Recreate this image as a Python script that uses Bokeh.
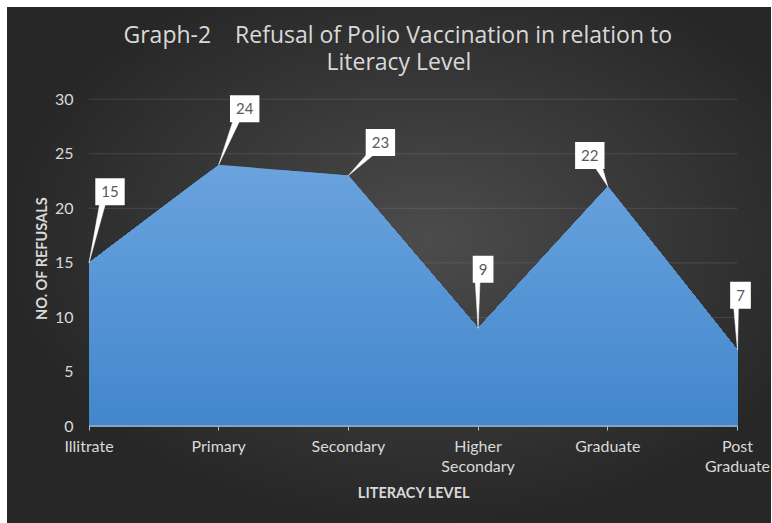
import numpy as np
from bokeh.plotting import figure
from bokeh.models import Range1d, FixedTicker, LinearAxis, Title, InlineStyleSheet
from bokeh.core.properties import value
from bokeh.embed import file_html
from bokeh.resources import INLINE

# ---------------- data ----------------
categories = ["Illitrate", "Primary", "Secondary", "Higher\nSecondary", "Graduate", "Post\nGraduate"]
refusals = [15, 24, 23, 9, 22, 7]
y_ticks = [0, 5, 10, 15, 20, 25, 30]
title_line1 = "Graph-2\u00a0\u00a0\u00a0\u00a0Refusal of Polio Vaccination in relation to"
title_line2 = "Literacy Level"
x_title = "LITERACY LEVEL"
y_title = "NO. OF REFUSALS"

# ---------------- layout / style ----------------
W, H = 772, 523
ML, MR, MT, MB = 75, 20, 90, 97
X0, X1 = -0.1041, 5.1157
Y0, Y1 = 0.0, 30.8
FW = W - ML - MR
FH = H - MT - MB
XS = FW / (X1 - X0)   # px per x unit
YS = FH / (Y1 - Y0)   # px per y unit

FONT = "Lato"
TFONT = "Open Sans"
TXT = "#d9d9d9"

# callout box centre offsets (px) and pointer base (px, relative to box centre)
label_dx = [21, 26, 32, 5, -18, 3]
label_dy = [-71, -56, -33, -59, -31, -55]
ptr_l = [-10, -11, -12, -8, 4, -7]
ptr_r = [-4, -4, -4, -3, 12, -2]

css = InlineStyleSheet(css=""":host {
  background-color: #ffffff;
  background-image: radial-gradient(ellipse farthest-side at 55% 45%, #4c4c4c 0%, #3b3b3b 45%, #272727 100%);
  background-size: 764px 516px;
  background-position: 7px 7px;
  background-repeat: no-repeat;
}""")

p = figure(width=W, height=H, x_range=Range1d(X0, X1), y_range=Range1d(Y0, Y1),
           output_backend="svg", toolbar_location=None, title_location=None,
           min_border_left=ML, min_border_right=MR, min_border_top=MT, min_border_bottom=MB,
           x_axis_type=None, y_axis_type=None, stylesheets=[css])
p.background_fill_alpha = 0
p.border_fill_alpha = 0
p.outline_line_color = None

n = len(categories)
xs = list(range(n))

xaxis = LinearAxis(ticker=FixedTicker(ticks=xs),
                   major_label_overrides={i: c for i, c in enumerate(categories)},
                   axis_label=x_title)
yaxis = LinearAxis(ticker=FixedTicker(ticks=y_ticks), axis_label=y_title)
p.add_layout(xaxis, "below")
p.add_layout(yaxis, "left")
for ax in (xaxis, yaxis):
    ax.axis_line_color = None
    ax.minor_tick_line_color = None
    ax.major_label_text_color = TXT
    ax.major_label_text_font = FONT
    ax.major_label_text_font_size = "16px"
    ax.axis_label_text_color = TXT
    ax.axis_label_text_font = FONT
    ax.axis_label_text_font_style = "bold"
    ax.axis_label_text_font_size = "14.5px"
xaxis.major_tick_line_color = "#bfbfbf"
xaxis.major_tick_out = 4
xaxis.major_tick_in = 0
xaxis.major_label_standoff = 5
xaxis.axis_label_standoff = 6
xaxis.major_label_text_line_height = 1.1
yaxis.major_tick_line_color = None
yaxis.major_tick_out = 0
yaxis.major_tick_in = 0
yaxis.major_label_standoff = 2
yaxis.axis_label_standoff = 2

# title: spacer nearest the frame, then line 2, then line 1
spacer = Title(text=" ", text_font_size="1px", standoff=9.5, text_color=TXT)
p.add_layout(spacer, "above")
t2 = Title(text=title_line2, align="left", offset=251, standoff=2,
           text_font=TFONT, text_font_size="23px", text_font_style="normal", text_color=TXT)
p.add_layout(t2, "above")
t1 = Title(text=title_line1, align="left", offset=48, standoff=0,
           text_font=TFONT, text_font_size="23px", text_font_style="normal", text_color=TXT)
try:
    t1.standoff = -16
except Exception:
    pass
p.add_layout(t1, "above")

# gridlines
grid_y = [t for t in y_ticks if t > 0]
p.segment(x0=[xs[0]] * len(grid_y), y0=grid_y, x1=[xs[-1]] * len(grid_y), y1=grid_y,
          line_color="#808080", line_alpha=0.3, line_width=1)

# gradient area, drawn as stacked clipped bands
def clip_below(xv, yv, h):
    px, py = [], []
    for i in range(len(xv)):
        if i > 0:
            a, b = yv[i - 1], yv[i]
            if (a - h) * (b - h) < 0:
                t = (h - a) / (b - a)
                px.append(xv[i - 1] + t * (xv[i] - xv[i - 1]))
                py.append(h)
        px.append(xv[i])
        py.append(min(yv[i], h))
    return px, py

top_c = np.array([106, 163, 222])
bot_c = np.array([66, 135, 204])
ymax = max(refusals)
step = 0.5
for h in np.arange(ymax, 0, -step):
    px, py = clip_below(xs, refusals, h)
    f = (h - step / 2) / ymax
    c = bot_c + (top_c - bot_c) * f
    col = "#%02x%02x%02x" % tuple(int(round(v)) for v in c)
    p.varea(x=px, y1=[0] * len(px), y2=py, fill_color=col, fill_alpha=1)

# baseline
p.segment(x0=[xs[0]], y0=[0], x1=[xs[-1]], y1=[0], line_color="#bfbfbf", line_width=2)

# callout pointers
pxs, pys = [], []
for i in range(n):
    cx = xs[i] + label_dx[i] / XS
    by = refusals[i] - (label_dy[i] + 10) / YS
    pxs.append([xs[i], cx + ptr_l[i] / XS, cx + ptr_r[i] / XS])
    pys.append([refusals[i], by, by])
p.patches(xs=pxs, ys=pys, fill_color="white", line_color="white", line_width=0.5)

# callout labels
p.text(x=xs, y=refusals, text=[str(v) for v in refusals], x_offset=label_dx, y_offset=label_dy,
       text_align="center", text_baseline="middle", text_color="#595959",
       text_font=value(FONT), text_font_size=value("15px"),
       background_fill_color="white", padding=dict(left=6, right=6, top=8, bottom=8),
       border_line_color=None)

open("out.html", "w").write(file_html(p, INLINE))
